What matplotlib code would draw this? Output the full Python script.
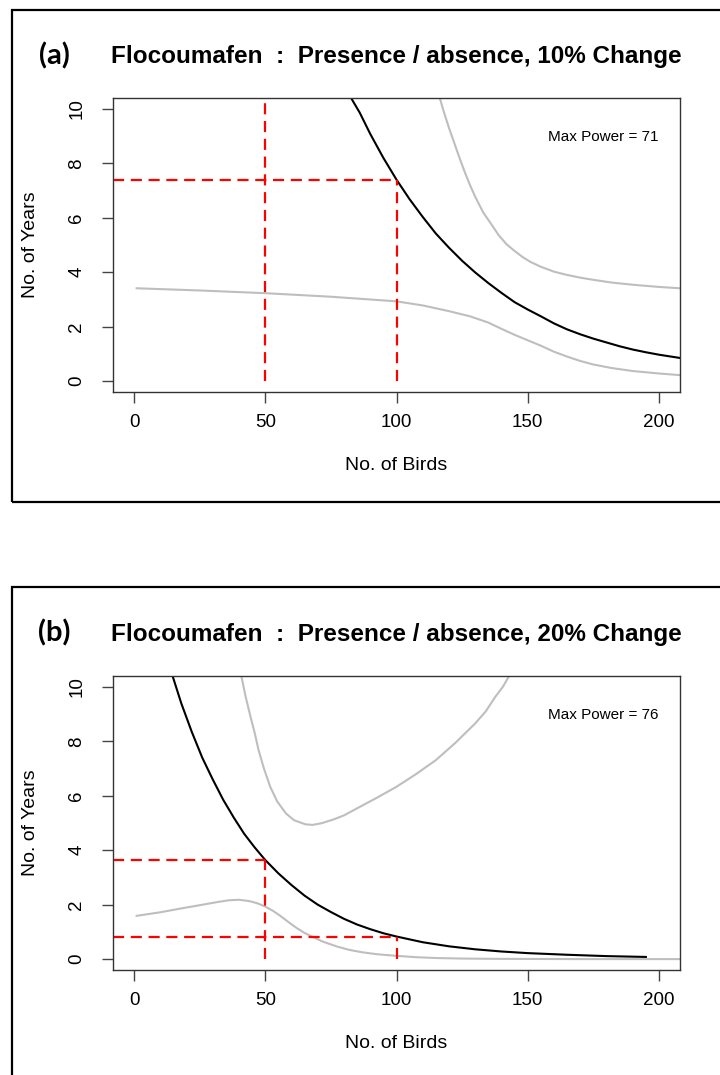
import matplotlib
matplotlib.use('Agg')
import matplotlib.pyplot as plt
from matplotlib.patches import Rectangle

plt.rcParams['font.family'] = ['Liberation Sans', 'DejaVu Sans']

# ---- panel (a): 10% change ----
a_black_x = [82.7, 86, 90, 95, 100, 105, 110, 115, 120, 125, 130, 135, 140, 145, 150,
             155, 160, 165, 170, 175, 180, 185, 190, 195, 200, 208]
a_black_y = [10.4, 9.86, 9.08, 8.2, 7.4, 6.68, 6.03, 5.42, 4.9, 4.42, 3.99, 3.6, 3.24, 2.9, 2.63,
             2.38, 2.12, 1.9, 1.72, 1.56, 1.42, 1.28, 1.16, 1.06, 0.97, 0.85]

a_upper_x = [116.5, 118, 120, 122, 124, 126, 128, 130, 133, 136, 139, 142, 145, 148, 151, 155,
             160, 165, 170, 175, 182, 190, 200, 208]
a_upper_y = [10.4, 9.9, 9.3, 8.75, 8.2, 7.68, 7.2, 6.77, 6.2, 5.78, 5.35, 5.02, 4.78, 4.56, 4.38, 4.2,
             4.02, 3.9, 3.8, 3.72, 3.62, 3.54, 3.46, 3.41]

a_lower_x = [1, 25, 50, 75, 100, 110, 120, 128, 135, 140, 145, 150, 155, 160, 165, 170, 175,
             182, 190, 200, 208]
a_lower_y = [3.41, 3.33, 3.23, 3.1, 2.93, 2.78, 2.57, 2.38, 2.15, 1.92, 1.7, 1.5, 1.3, 1.08, 0.9, 0.74, 0.61,
             0.48, 0.37, 0.28, 0.22]

a_birds = [50, 100]        # red guide lines
a_years = [None, 7.4]
a_power = 71

# ---- panel (b): 20% change ----
b_black_x = [14.7, 18, 22, 26, 30, 34, 38, 42, 46, 50, 55, 60, 65, 70, 75, 80, 85, 90, 95, 100,
             110, 120, 130, 140, 150, 165, 180, 195]
b_black_y = [10.4, 9.4, 8.35, 7.4, 6.6, 5.85, 5.2, 4.6, 4.1, 3.64, 3.15, 2.72, 2.33, 2.0, 1.73, 1.48,
             1.27, 1.1, 0.95, 0.83, 0.62, 0.47, 0.36, 0.28, 0.22, 0.16, 0.11, 0.08]

b_upper_x = [40.9, 42.5, 44.4, 46, 47.4, 49.5, 51.9, 54.5, 57.9, 61, 65.4, 68, 71.4, 76, 80, 85, 92,
             100, 107.5, 115, 122.5, 130, 134, 137.6, 140.5, 142.9]
b_upper_y = [10.4, 9.65, 8.9, 8.3, 7.7, 7.0, 6.33, 5.8, 5.35, 5.1, 4.95, 4.93, 4.99, 5.13, 5.28, 5.54, 5.9,
             6.33, 6.8, 7.31, 7.95, 8.66, 9.1, 9.63, 10.0, 10.4]

b_lower_x = [1, 10, 17.3, 25, 32, 36, 40, 44, 47, 50, 53, 56, 59.4, 62, 65, 68.4, 72, 77.4, 82, 87,
             92.5, 100, 107.5, 115, 125, 137.6, 155, 170, 190, 208]
b_lower_y = [1.59, 1.72, 1.85, 1.98, 2.1, 2.16, 2.18, 2.13, 2.05, 1.93, 1.77, 1.57, 1.32, 1.14, 0.96, 0.8,
             0.64, 0.46, 0.34, 0.25, 0.18, 0.12, 0.07, 0.04, 0.02, 0.01, 0.005, 0.0, 0.0, 0.0]

b_birds = [50, 100]
b_years = [3.64, 0.83]
b_power = 76

xticks = [0, 50, 100, 150, 200]
yticks = [0, 2, 4, 6, 8, 10]

fig = plt.figure(figsize=(7.2, 10.75), dpi=100)

# outer frames round each panel
fig.patches.append(Rectangle((12/720, 1-502/1075), 0.99, (502-10)/1075, transform=fig.transFigure,
                             fill=False, lw=1.6, ec='black'))
fig.patches.append(Rectangle((12/720, -0.02), 0.99, 1-587/1075+0.02, transform=fig.transFigure,
                             fill=False, lw=1.6, ec='black'))

panels = [
    ('(a)', '10%', a_black_x, a_black_y, a_upper_x, a_upper_y, a_lower_x, a_lower_y, a_birds, a_years, a_power, 392, 56),
    ('(b)', '20%', b_black_x, b_black_y, b_upper_x, b_upper_y, b_lower_x, b_lower_y, b_birds, b_years, b_power, 970, 633),
]

for tag, pct, bx, by, ux, uy, lx, ly, birds, years, power, bottom_px, tag_y in panels:
    ax = fig.add_axes([113/720, 1-bottom_px/1075, 567/720, 294/1075])
    ax.set_xlim(-8, 208)
    ax.set_ylim(-0.4, 10.4)

    ax.plot(ux, uy, color='#bebebe', lw=1.5)
    ax.plot(lx, ly, color='#bebebe', lw=1.5)
    ax.plot(bx, by, color='black', lw=1.5)

    # red dashed guide lines
    for b, yv in zip(birds, years):
        top = 10.4 if yv is None else yv
        ax.plot([b, b], [0, top], color='red', lw=1.6, dashes=(5, 3))
        if yv is not None:
            ax.plot([-8, b], [yv, yv], color='red', lw=1.6, dashes=(5, 3))

    ax.text(200, 8.95, 'Max Power = %d' % power, ha='right', va='center', fontsize=11)

    ax.set_xticks(xticks)
    ax.set_yticks(yticks)
    ax.tick_params(direction='out', length=8, width=1, color='#444444', labelsize=13.5)
    ax.tick_params(axis='x', pad=8)
    ax.tick_params(axis='y', pad=12, labelrotation=90)
    for lab in ax.get_yticklabels():
        lab.set_va('center')
    for s in ax.spines.values():
        s.set_color('#333333')
        s.set_linewidth(1)

    ax.set_xlabel('No. of Birds', fontsize=14, va='center')
    ax.xaxis.set_label_coords(0.5, -0.2517)
    ax.set_ylabel('No. of Years', fontsize=14, va='center')
    ax.yaxis.set_label_coords(-0.145, 0.5)

    ax.set_title('Flocoumafen  :  Presence / absence, %s Change' % pct,
                 fontsize=17.5, fontweight='bold', pad=25)
    fig.text(54/720, 1-tag_y/1075, tag, ha='center', va='center', fontsize=21,
             fontweight='bold', family='Lato')

fig.savefig('out.png', dpi=100)
